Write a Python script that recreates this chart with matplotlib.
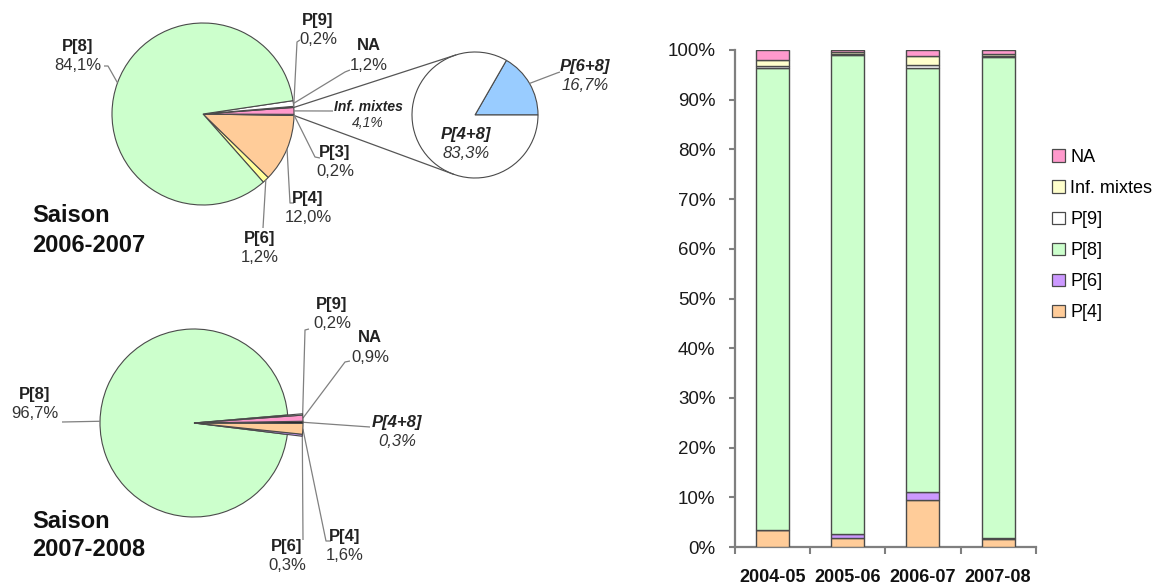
import matplotlib
matplotlib.use('Agg')
import matplotlib.pyplot as plt
from matplotlib.patches import Patch
import numpy as np

plt.rcParams['font.family'] = ['Liberation Sans', 'DejaVu Sans']

W, H = 1163, 585

# ---------------- data ----------------
seasons = ['2004-05', '2005-06', '2006-07', '2007-08']
bar_p4 = [3.5, 1.8, 9.5, 1.6]
bar_p6 = [0.0, 0.8, 1.5, 0.3]
bar_p8 = [92.9, 96.4, 85.3, 96.7]
bar_p9 = [0.3, 0.2, 0.7, 0.2]
bar_inf = [1.3, 0.3, 1.8, 0.3]
bar_na = [2.0, 0.5, 1.2, 0.9]
yticks_pct = [0, 10, 20, 30, 40, 50, 60, 70, 80, 90, 100]

# pie 2006-2007 (drawn wedge sizes, counter-clockwise order)
pie1_names = ['P[6]', 'P[4]', 'P[3]', 'Inf. mixtes', 'P[9]', 'NA', 'P[8]']
pie1_sizes = [1.2, 12.0, 0.2, 1.2, 0.2, 1.0, 84.1]
pie1_text = ['1,2%', '12,0%', '0,2%', '4,1%', '0,2%', '1,2%', '84,1%']

# breakdown of mixed infections
pie2_names = ['P[6+8]', 'P[4+8]']
pie2_sizes = [16.7, 83.3]
pie2_text = ['16,7%', '83,3%']

# pie 2007-2008
pie3_names = ['P[6]', 'P[4]', 'P[4+8]', 'NA', 'P[9]', 'P[8]']
pie3_sizes = [0.3, 1.6, 0.3, 0.9, 0.2, 96.7]
pie3_text = ['0,3%', '1,6%', '0,3%', '0,9%', '0,2%', '96,7%']

# ---------------- styles ----------------
C_P4 = '#ffcc99'
C_P6 = '#cc99ff'
C_P8 = '#ccffcc'
C_P9 = '#ffffff'
C_INF = '#ffffcc'
C_NA = '#ff99cc'
EDGE = '#4a4a4a'
LEAD = '#808080'
TXT = '#333333'

fig = plt.figure(figsize=(W / 100, H / 100), dpi=100)

# ================= bar chart =================
ax = fig.add_axes([735 / W, 1 - 547 / H, 300.7 / W, 497 / H])
x = np.arange(len(seasons))
bw = 0.44
bottom = np.zeros(len(seasons))
series = [('P[4]', bar_p4, C_P4), ('P[6]', bar_p6, C_P6), ('P[8]', bar_p8, C_P8),
          ('P[9]', bar_p9, C_P9), ('Inf. mixtes', bar_inf, C_INF), ('NA', bar_na, C_NA)]
for name, vals, col in series:
    ax.bar(x, vals, bw, bottom=bottom, color=col, edgecolor=EDGE, linewidth=1.0, zorder=3)
    bottom += np.array(vals)

ax.set_xlim(-0.5, len(seasons) - 0.5)
ax.set_ylim(0, 100)
ax.set_yticks(yticks_pct)
ax.set_yticklabels([f'{v}%' for v in yticks_pct], fontsize=13.5, color='#1a1a1a')
ax.set_xticks(np.arange(len(seasons) + 1) - 0.5)
ax.set_xticklabels([])
ax.set_xticks(x, minor=True)
ax.set_xticklabels(seasons, minor=True, fontsize=13, fontweight='bold', color='#111111')
ax.tick_params(axis='x', which='minor', length=0, pad=16)
ax.tick_params(axis='x', which='major', length=5, width=1.5, color='#7f7f7f', direction='out')
ax.tick_params(axis='y', length=4, width=1.5, color='#7f7f7f', direction='out', pad=10)
for s in ['top', 'right']:
    ax.spines[s].set_visible(False)
for s in ['left', 'bottom']:
    ax.spines[s].set_color('#7f7f7f')
    ax.spines[s].set_linewidth(1.6)

handles = [Patch(facecolor=c, edgecolor=EDGE, linewidth=0.9, label=n)
           for n, v, c in series[::-1]]
fig.legend(handles=handles, loc='upper left', bbox_to_anchor=(1052 / W, 1 - 149 / H),
           frameon=False, fontsize=13, handlelength=0.7, handleheight=0.7,
           handletextpad=0.3, labelspacing=0.78, borderpad=0, borderaxespad=0)

# ================= pies (pixel coordinate overlay) =================
pax = fig.add_axes([0, 0, 1, 1], zorder=5)
pax.patch.set_alpha(0)


def P(px, py):
    return px, H - py


def edge_point(c, r, ang):
    a = np.deg2rad(ang)
    return c[0] + r * np.cos(a), c[1] + r * np.sin(a)


def leader(start, pts):
    xs = [start[0]] + [p[0] for p in pts]
    ys = [start[1]] + [H - p[1] for p in pts]
    pax.plot(xs, ys, color=LEAD, lw=0.9, zorder=2, solid_capstyle='butt')


def lab(px, py, name, pct, size=12, italic=False):
    st = 'italic' if italic else 'normal'
    pax.text(*P(px, py), name, ha='center', va='center', fontsize=size,
             fontweight='bold', style=st, color='#222222')
    pax.text(*P(px, py + (19 if size > 11 else 16)), pct, ha='center', va='center',
             fontsize=size, style=st, color=TXT)


# ---- pie 2006-2007
c1 = P(203, 114)
r1 = 91
pie1_colors = ['#ffff99', C_P4, '#993355', C_NA, '#333333', '#ffffff', C_P8]
w1, _ = pax.pie(pie1_sizes, colors=pie1_colors, startangle=-48.5, center=c1, radius=r1,
                frame=True, wedgeprops=dict(edgecolor=EDGE, linewidth=0.8))
mid1 = {n: (w.theta1 + w.theta2) / 2 for n, w in zip(pie1_names, w1)}
th1 = {n: (w.theta1, w.theta2) for n, w in zip(pie1_names, w1)}

leader(edge_point(c1, r1, mid1['P[8]']), [(108, 66), (104, 66)])
leader(edge_point(c1, r1, mid1['P[9]']), [(297, 42), (300, 40)])
leader(edge_point(c1, r1, mid1['NA']), [(345, 72), (350, 70)])
leader(edge_point(c1, r1, mid1['Inf. mixtes']), [(333, 111)])
leader(edge_point(c1, r1, mid1['P[3]']), [(315, 157), (320, 158)])
leader(edge_point(c1, r1, mid1['P[4]']), [(290, 203), (294, 203)])
leader(edge_point(c1, r1, mid1['P[6]']), [(263, 228)])

lab(78, 46, 'P[8]', pie1_text[6])
lab(318, 21, 'P[9]', pie1_text[4])
lab(369, 46, 'NA', pie1_text[5])
lab(368, 107, 'Inf. mixtes', pie1_text[3], size=10, italic=True)
lab(335, 152, 'P[3]', pie1_text[2])
lab(308, 199, 'P[4]', pie1_text[1])
lab(260, 238, 'P[6]', pie1_text[0])

# ---- secondary pie (mixed infections)
c2 = P(475, 115)
r2 = 63
w2, _ = pax.pie(pie2_sizes, colors=['#99ccff', '#ffffff'], startangle=0, center=c2,
                radius=r2, frame=True, wedgeprops=dict(edgecolor=EDGE, linewidth=0.8))


def tangent(p, c, r, upper):
    d = np.hypot(p[0] - c[0], p[1] - c[1])
    base = np.degrees(np.arctan2(p[1] - c[1], p[0] - c[0]))
    off = np.degrees(np.arccos(r / d))
    ang = base - off if upper else base + off
    return edge_point(c, r, ang)


s_up = edge_point(c1, r1, th1['Inf. mixtes'][1])
s_lo = edge_point(c1, r1, th1['P[3]'][0])
t_up = tangent(s_up, c2, r2, True)
t_lo = tangent(s_lo, c2, r2, False)
pax.plot([s_up[0], t_up[0]], [s_up[1], t_up[1]], color='#555555', lw=0.9, zorder=1)
pax.plot([s_lo[0], t_lo[0]], [s_lo[1], t_lo[1]], color='#555555', lw=0.9, zorder=1)

mid2 = (w2[0].theta1 + w2[0].theta2) / 2
leader(edge_point(c2, r2, mid2), [(557, 73), (560, 72)])
lab(585, 67, pie2_names[0], pie2_text[0], italic=True)
lab(466, 134, pie2_names[1], pie2_text[1], italic=True)

# ---- pie 2007-2008
c3 = P(194, 423)
r3 = 94
r3s = 109
pie3_colors = [C_P6, C_P4, '#222222', C_NA, '#ffffff', C_P8]
w3, _ = pax.pie(pie3_sizes, colors=pie3_colors, startangle=-7, center=c3, radius=r3,
                frame=True, wedgeprops=dict(edgecolor=EDGE, linewidth=0.8))
for n, w in zip(pie3_names, w3):
    if n != 'P[8]':
        w.set_radius(r3s)
        w.set_zorder(3)
mid3 = {n: (w.theta1 + w.theta2) / 2 for n, w in zip(pie3_names, w3)}

leader(edge_point(c3, r3, mid3['P[8]']), [(62, 422)])
leader(edge_point(c3, r3s, mid3['P[9]']), [(305, 330), (309, 329)])
leader(edge_point(c3, r3s, mid3['NA']), [(345, 362), (350, 361)])
leader(edge_point(c3, r3s, mid3['P[4+8]']), [(370, 427)])
leader(edge_point(c3, r3s, mid3['P[4]']), [(326, 541), (331, 541)])
leader(edge_point(c3, r3s, mid3['P[6]']), [(303, 540)])

lab(35, 395, 'P[8]', pie3_text[5])
lab(332, 305, 'P[9]', pie3_text[4])
lab(370, 338, 'NA', pie3_text[3])
lab(397, 422, 'P[4+8]', pie3_text[2], italic=True)
lab(345, 536, 'P[4]', pie3_text[1])
lab(287, 547, 'P[6]', pie3_text[0])

# ---- season titles
for (tx, ty), t in [((32, 216), 'Saison'), ((32, 245), '2006-2007'),
                    ((32, 521), 'Saison'), ((32, 550), '2007-2008')]:
    pax.text(*P(tx, ty), t, ha='left', va='center', fontsize=17, fontweight='bold',
             color='#111111')

pax.set_xlim(0, W)
pax.set_ylim(0, H)
pax.set_aspect('auto')
pax.set_axis_off()

fig.savefig('out.png', dpi=100)
